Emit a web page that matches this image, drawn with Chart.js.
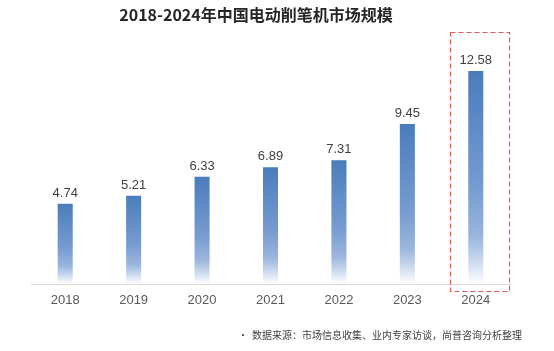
<!DOCTYPE html>
<html>
<head>
<meta charset="utf-8">
<script src="https://cdn.jsdelivr.net/npm/chart.js@4.4.1/dist/chart.umd.min.js"></script>
<style>
  html, body { margin: 0; padding: 0; background: #fff; }
  #c { display: block; }
</style>
</head>
<body>
<canvas id="c" width="554" height="351"></canvas>
<script>
const years = ["2018", "2019", "2020", "2021", "2022", "2023", "2024"];
const marketSize = [4.74, 5.21, 6.33, 6.89, 7.31, 9.45, 12.58];
const chartTitle = "2018-2024年中国电动削笔机市场规模";
const sourceNote = "数据来源：市场信息收集、业内专家访谈，尚普咨询分析整理";
const highlightIndex = 6;

const fontCJK = "'Noto Sans CJK SC', 'Noto Sans', sans-serif";
const fontNum = "Arial, 'Liberation Sans', sans-serif";

// each bar gets its own gradient: blue at top, white at the base
function barGradient(context) {
    const chart = context.chart;
    const yScale = chart.scales.y;
    if (!chart.chartArea || !yScale) return "#4f81bd";
    const v = context.raw;
    const top = yScale.getPixelForValue(v);
    const base = yScale.getPixelForValue(0);
    if (!isFinite(top) || !isFinite(base)) return "#4f81bd";
    const g = chart.ctx.createLinearGradient(0, top, 0, base);
    g.addColorStop(0, "#4a7cbc");
    g.addColorStop(0.55, "#779cd0");
    g.addColorStop(0.78, "#9bb6de");
    g.addColorStop(0.9, "#cfdcf0");
    g.addColorStop(1, "#ffffff");
    return g;
}

const extras = {
    id: "extras",
    afterDatasetsDraw(chart) {
        const ctx = chart.ctx;
        const meta = chart.getDatasetMeta(0);
        ctx.save();
        // value labels
        ctx.fillStyle = "#404040";
        ctx.font = "13px " + fontNum;
        ctx.textAlign = "center";
        ctx.textBaseline = "bottom";
        meta.data.forEach((bar, i) => {
            ctx.fillText(marketSize[i].toFixed(2), bar.x, bar.y - 4);
        });

        // dashed highlight box around the last year
        const xs = chart.scales.x;
        const cx = xs.getPixelForValue(highlightIndex);
        const a = chart.chartArea;
        ctx.strokeStyle = "#e05a5a";
        ctx.lineWidth = 1.2;
        ctx.setLineDash([5, 3]);
        ctx.strokeRect(Math.round(cx - 26) + 0.5, 32.5, 59, a.bottom - 32 + 7);
        ctx.setLineDash([]);

        // title
        ctx.fillStyle = "#262626";
        ctx.font = "bold 16px " + fontCJK;
        ctx.textBaseline = "middle";
        ctx.fillText(chartTitle, 256, 15);

        // source note
        ctx.fillStyle = "#404040";
        ctx.font = "10px " + fontCJK;
        ctx.textAlign = "left";
        ctx.fillText("•", 238, 335);
        ctx.fillText(sourceNote, 252, 335);
        ctx.restore();
    }
};

new Chart(document.getElementById("c").getContext("2d"), {
    type: "bar",
    data: {
        labels: years,
        datasets: [{
            data: marketSize,
            backgroundColor: barGradient,
            borderWidth: 0,
            barPercentage: 0.22,
            categoryPercentage: 1
        }]
    },
    options: {
        responsive: false,
        animation: false,
        layout: { padding: { left: 31, right: 44, top: 47, bottom: 47 } },
        plugins: {
            legend: { display: false },
            tooltip: { enabled: false }
        },
        scales: {
            x: {
                afterFit: (s) => { s.height = 20; },
                grid: {
                    drawOnChartArea: false,
                    drawTicks: false
                },
                border: { display: true, color: "#d9d9d9", width: 1 },
                ticks: {
                    padding: 9,
                    font: { size: 13, family: fontNum },
                    color: "#595959"
                }
            },
            y: {
                display: false,
                min: 0,
                max: 14
            }
        }
    },
    plugins: [extras]
});
</script>
</body>
</html>
